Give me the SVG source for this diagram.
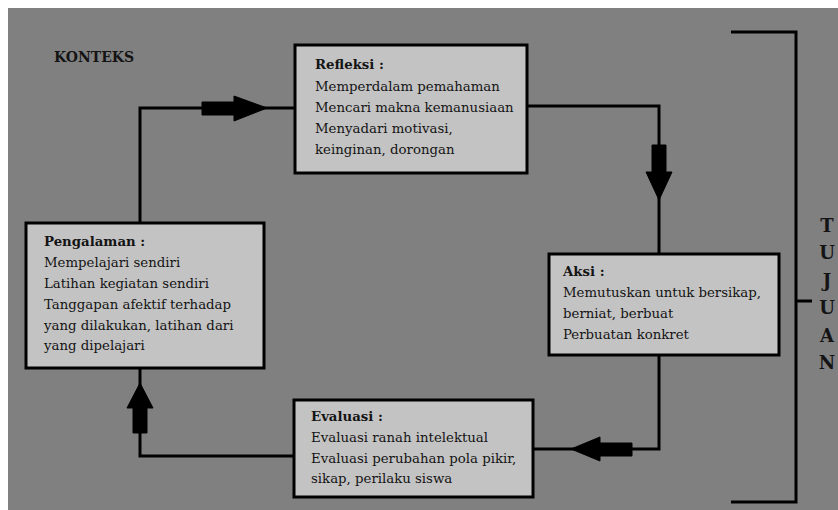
<svg xmlns="http://www.w3.org/2000/svg" width="838" height="510" viewBox="0 0 838 510">
<style>
.box{fill:#c3c3c3;stroke:#000;stroke-width:3}
.ln{fill:none;stroke:#000;stroke-width:3}
.ar{fill:#000;stroke:#000;stroke-width:1;stroke-linejoin:round}
text{font-family:"DejaVu Serif","Liberation Serif",serif;fill:#141414}
.t{font-size:13.3px}
.b{font-size:13.3px;font-weight:bold}
.k{font-size:14px;font-weight:bold}
.tj{font-size:18px;font-weight:bold;text-anchor:middle}
</style>
<rect x="0" y="0" width="838" height="510" fill="#ffffff"/>
<rect x="8" y="8" width="830" height="502" fill="#808080"/>
<text x="54" y="62" class="k">KONTEKS</text>
<g id="connectors">
<path class="ln" d="M140,223 V108 H295"/>
<path class="ar" d="M202,102 H234 V96 L267,108 L234,121 V115 H202 Z"/>
<path class="ln" d="M527,106 H659 V254"/>
<path class="ar" d="M652,145 H666 V172 H672 L659,200 L646,172 H652 Z"/>
<path class="ln" d="M659,355 V449 H533"/>
<path class="ar" d="M632,443 V456 H600 V461 L571,449 L600,437 V443 Z"/>
<path class="ln" d="M294,456 H140 V368"/>
<path class="ar" d="M133,433 V408 H127 L140,383 L153,408 H147 V433 Z"/>
<path class="ln" d="M731,32 H796 V502 H731 M796,301 H812"/>
</g>
<g id="refleksi">
<rect class="box" x="295" y="45" width="232" height="128"/>
<text x="315" y="69" class="b">Refleksi :</text>
<text x="315" y="91" class="t">Memperdalam pemahaman</text>
<text x="315" y="112" class="t">Mencari makna kemanusiaan</text>
<text x="315" y="133" class="t">Menyadari motivasi,</text>
<text x="315" y="154" class="t">keinginan, dorongan</text>
</g>
<g id="pengalaman">
<rect class="box" x="26" y="223" width="238" height="145"/>
<text x="44" y="246" class="b">Pengalaman :</text>
<text x="44" y="267" class="t">Mempelajari sendiri</text>
<text x="44" y="288" class="t">Latihan kegiatan sendiri</text>
<text x="44" y="309" class="t">Tanggapan afektif terhadap</text>
<text x="44" y="330" class="t">yang dilakukan, latihan dari</text>
<text x="44" y="350" class="t">yang dipelajari</text>
</g>
<g id="aksi">
<rect class="box" x="549" y="254" width="230" height="101"/>
<text x="563" y="276" class="b">Aksi :</text>
<text x="563" y="297" class="t">Memutuskan untuk bersikap,</text>
<text x="563" y="318" class="t">berniat, berbuat</text>
<text x="563" y="339" class="t">Perbuatan konkret</text>
</g>
<g id="evaluasi">
<rect class="box" x="294" y="400" width="239" height="97"/>
<text x="311" y="421" class="b">Evaluasi :</text>
<text x="311" y="442" class="t">Evaluasi ranah intelektual</text>
<text x="311" y="463" class="t">Evaluasi perubahan pola pikir,</text>
<text x="311" y="483" class="t">sikap, perilaku siswa</text>
</g>
<g id="tujuan">
<text x="827" y="232" class="tj">T</text>
<text x="827" y="259" class="tj">U</text>
<text x="827" y="287" class="tj">J</text>
<text x="827" y="314" class="tj">U</text>
<text x="827" y="342" class="tj">A</text>
<text x="827" y="369" class="tj">N</text>
</g>
</svg>
